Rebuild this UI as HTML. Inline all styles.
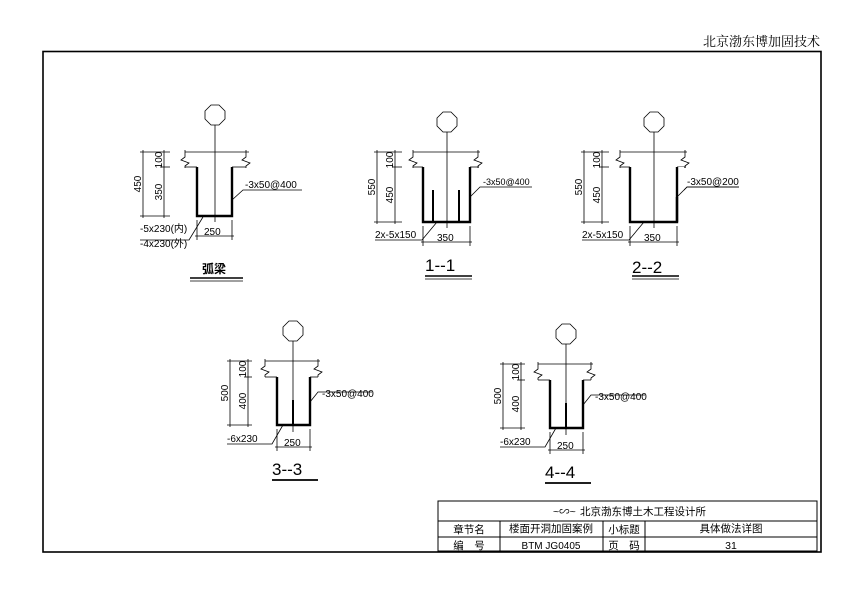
<!DOCTYPE html>
<html><head><meta charset="utf-8"><style>
html,body{margin:0;padding:0;background:#fff;}
svg{display:block;}
text{font-family:"Liberation Sans","Noto Sans CJK SC",sans-serif;fill:#000;}
.t{font-size:10px;}
.cn{font-family:"Liberation Serif","Noto Serif CJK SC",serif;}
</style></head><body>
<svg width="863" height="604" viewBox="0 0 863 604" xmlns="http://www.w3.org/2000/svg" fill="none" stroke="#000">
<text x="820" y="46" text-anchor="end" font-size="13" class="cn" stroke="none" fill="#333">北京渤东博加固技术</text>
<rect x="43" y="51.5" width="778" height="500.5" stroke-width="1.6"/>

<!-- Title block -->
<g stroke-width="1">
<rect x="438" y="501" width="379" height="50"/>
<line x1="438" y1="521" x2="817" y2="521"/>
<line x1="438" y1="537" x2="817" y2="537"/>
<line x1="500" y1="521" x2="500" y2="551"/>
<line x1="603" y1="521" x2="603" y2="551"/>
<line x1="645" y1="521" x2="645" y2="551"/>
</g>
<g stroke="none" font-size="10.5">
<text x="553" y="515">~∽~</text>
<text x="580" y="515">北京渤东博土木工程设计所</text>
<text x="469" y="533" text-anchor="middle">章节名</text>
<text x="551" y="532" text-anchor="middle">楼面开洞加固案例</text>
<text x="624" y="533" text-anchor="middle">小标题</text>
<text x="731" y="532" text-anchor="middle">具体做法详图</text>
<text x="469" y="549" text-anchor="middle">编　号</text>
<text x="551" y="549" text-anchor="middle" font-size="10">BTM JG0405</text>
<text x="624" y="549" text-anchor="middle">页　码</text>
<text x="731" y="549" text-anchor="middle">31</text>
</g>

<!-- Drawing A: 弧梁 -->
<g stroke-width="0.8">
<polygon points="211,105 219,105 225,111 225,119 219,125 211,125 205,119 205,111"/>
<line x1="215" y1="125" x2="215" y2="222"/>
<line x1="185" y1="152" x2="249" y2="152"/>
<polyline points="185,150 185,157 181,160 189,163 185,166 185,168"/>
<polyline points="246,150 246,157 242,160 250,163 246,166 246,168"/>
<line x1="185" y1="167" x2="197" y2="167"/>
<line x1="232" y1="167" x2="246" y2="167"/>
<line x1="140" y1="152" x2="170" y2="152"/>
<line x1="160" y1="167" x2="170" y2="167"/>
<line x1="140" y1="216" x2="170" y2="216"/>
<line x1="143" y1="150" x2="143" y2="218"/>
<line x1="164" y1="150" x2="164" y2="218"/>
<line x1="197" y1="220" x2="197" y2="240"/>
<line x1="232" y1="220" x2="232" y2="240"/>
<line x1="195" y1="236" x2="234" y2="236"/>
<polyline points="232,200 243,190 302,190"/>
<polyline points="203,217 189,240 140,240"/>
<line x1="190" y1="278" x2="243" y2="278" stroke-width="1.6"/>
<line x1="190" y1="281" x2="243" y2="281" stroke-width="0.8"/>
</g>
<g stroke-width="2.4">
<polyline points="197,167 197,216 232,216 232,167"/>
</g>
<g stroke="none" class="t">
<text transform="translate(141,184) rotate(-90)" text-anchor="middle">450</text>
<text transform="translate(162,160) rotate(-90)" text-anchor="middle">100</text>
<text transform="translate(162,192) rotate(-90)" text-anchor="middle">350</text>
<text x="245" y="188">-3x50@400</text>
<text x="204" y="235">250</text>
<text x="140" y="232">-5x230(内)</text>
<text x="140" y="247">-4x230(外)</text>
<text x="202" y="273" font-size="12" font-weight="bold">弧梁</text>
</g>

<!-- Drawing B: 1--1 and C: 2--2 -->
<g id="B" stroke-width="0.8">
<polygon points="443,112 451,112 457,118 457,126 451,132 443,132 437,126 437,118"/>
<line x1="447" y1="132" x2="447" y2="228"/>
<line x1="413" y1="152" x2="480" y2="152"/>
<polyline points="413,150 413,157 409,160 417,163 413,166 413,168"/>
<polyline points="478,150 478,157 474,160 482,163 478,166 478,168"/>
<line x1="413" y1="167" x2="423" y2="167"/>
<line x1="470" y1="167" x2="479" y2="167"/>
<line x1="374" y1="152" x2="402" y2="152"/>
<line x1="392" y1="167" x2="402" y2="167"/>
<line x1="374" y1="222" x2="402" y2="222"/>
<line x1="377" y1="150" x2="377" y2="224"/>
<line x1="395" y1="150" x2="395" y2="224"/>
<line x1="423" y1="226" x2="423" y2="246"/>
<line x1="470" y1="226" x2="470" y2="246"/>
<line x1="421" y1="242" x2="472" y2="242"/>
<polyline points="470,197 480,187 532,187"/>
<polyline points="437,222 422,240 375,240"/>
<line x1="425" y1="276" x2="472" y2="276" stroke-width="1.6"/>
<line x1="425" y1="279" x2="472" y2="279"/>
<polyline points="423,167 423,222 470,222 470,167" stroke-width="2.4"/>
</g>
<g stroke-width="2">
<line x1="433" y1="190" x2="433" y2="222"/>
<line x1="459" y1="190" x2="459" y2="222"/>
</g>
<g stroke="none" class="t">
<text transform="translate(375,187) rotate(-90)" text-anchor="middle">550</text>
<text transform="translate(393,160) rotate(-90)" text-anchor="middle">100</text>
<text transform="translate(393,195) rotate(-90)" text-anchor="middle">450</text>
<text x="483" y="185" font-size="9">-3x50@400</text>
<text x="437" y="241">350</text>
<text x="375" y="238">2x-5x150</text>
<text x="425" y="271" font-size="17">1--1</text>
</g>
<g transform="translate(207,0)">
<use href="#B"/>
</g>
<rect x="664" y="167" width="20" height="30" fill="#fff" stroke="none"/>
<g stroke-width="0.8" fill="none">
<polyline points="677,197 687,187 739,187"/>
<line x1="677" y1="167" x2="677" y2="197"/>
</g>
<polyline points="677,167 677,222" stroke-width="2.4"/>
<g stroke="none" class="t">
<text transform="translate(582,187) rotate(-90)" text-anchor="middle">550</text>
<text transform="translate(600,160) rotate(-90)" text-anchor="middle">100</text>
<text transform="translate(600,195) rotate(-90)" text-anchor="middle">450</text>
<text x="687" y="185">-3x50@200</text>
<text x="644" y="241">350</text>
<text x="582" y="238">2x-5x150</text>
<text x="632" y="273" font-size="17">2--2</text>
</g>

<!-- Drawing D: 3--3 and E: 4--4 -->
<g id="D" stroke-width="0.8">
<polygon points="289,321 297,321 303,327 303,335 297,341 289,341 283,335 283,327"/>
<line x1="293" y1="341" x2="293" y2="432"/>
<line x1="265" y1="361" x2="320" y2="361"/>
<polyline points="265,359 265,366 261,369 269,372 265,375 265,377"/>
<polyline points="318,359 318,366 314,369 322,372 318,375 318,377"/>
<line x1="265" y1="377" x2="277" y2="377"/>
<line x1="310" y1="377" x2="318" y2="377"/>
<line x1="227" y1="361" x2="252" y2="361"/>
<line x1="244" y1="377" x2="252" y2="377"/>
<line x1="227" y1="425" x2="252" y2="425"/>
<line x1="230" y1="359" x2="230" y2="427"/>
<line x1="248" y1="359" x2="248" y2="427"/>
<line x1="277" y1="429" x2="277" y2="451"/>
<line x1="310" y1="429" x2="310" y2="451"/>
<line x1="275" y1="447" x2="312" y2="447"/>
<polyline points="310,402 318,392 372,392"/>
<polyline points="283,425 272,444 227,444"/>
<line x1="272" y1="480" x2="318" y2="480" stroke-width="1.8"/>
<polyline points="277,377 277,425 310,425 310,377" stroke-width="2.4"/>
<line x1="293" y1="400" x2="293" y2="425" stroke-width="2"/>
</g>
<g stroke="none" class="t">
<text transform="translate(228,393) rotate(-90)" text-anchor="middle">500</text>
<text transform="translate(246,369) rotate(-90)" text-anchor="middle">100</text>
<text transform="translate(246,401) rotate(-90)" text-anchor="middle">400</text>
<text x="322" y="397">-3x50@400</text>
<text x="284" y="446">250</text>
<text x="227" y="442">-6x230</text>
<text x="272" y="475" font-size="17">3--3</text>
</g>
<g transform="translate(273,3)"><use href="#D"/></g>
<g stroke="none" class="t">
<text transform="translate(501,396) rotate(-90)" text-anchor="middle">500</text>
<text transform="translate(519,372) rotate(-90)" text-anchor="middle">100</text>
<text transform="translate(519,404) rotate(-90)" text-anchor="middle">400</text>
<text x="595" y="400">-3x50@400</text>
<text x="557" y="449">250</text>
<text x="500" y="445">-6x230</text>
<text x="545" y="478" font-size="17">4--4</text>
</g>
</svg>
</body></html>
